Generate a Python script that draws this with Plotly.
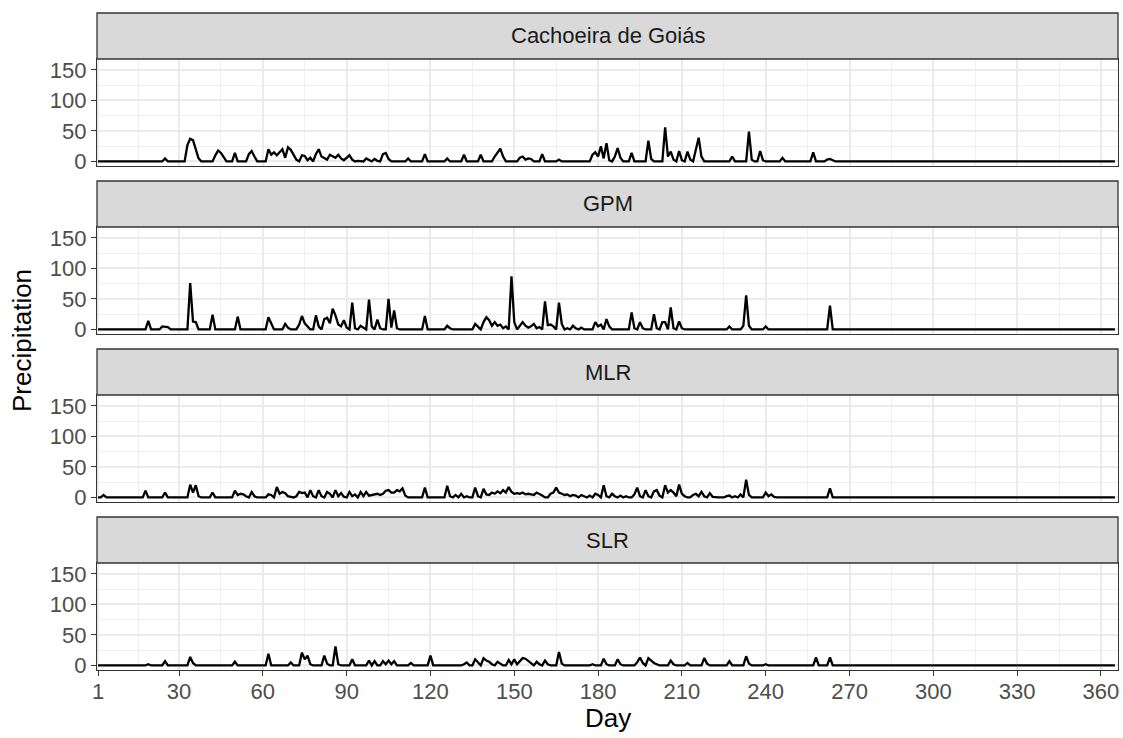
import plotly.graph_objects as go
from plotly.subplots import make_subplots

# ---------------- data (daily precipitation, nonzero days only) ----------------
panel_names = ["Cachoeira de Goiás", "GPM", "MLR", "SLR"]

cach_days = [25, 33, 34, 35, 36, 37, 43, 44, 45, 46, 50, 55, 56, 57,
             62, 63, 64, 65, 66, 67, 68, 69, 70, 71, 72, 74, 75, 76, 77, 79, 80, 81, 82, 83,
             84, 85, 86, 87, 88, 89, 90, 91, 92, 94, 97, 98, 100, 101, 103, 104, 105,
             112, 118, 126, 132, 138, 143, 144, 145, 146, 152, 153, 154, 155, 156, 160, 166,
             178, 179, 180, 181, 182, 183, 184, 186, 187, 188, 192, 198, 199,
             204, 205, 206, 207, 209, 210, 212, 213, 215, 216, 217,
             228, 234, 235, 238, 239, 246, 257, 262, 263, 264]
cach_vals = [5, 27, 37, 35, 20, 5, 10, 18, 14, 6, 14, 12, 17, 8,
             20, 11, 15, 10, 15, 20, 6, 23, 19, 10, 3, 10, 9, 2, 6, 12, 20, 8, 6, 3,
             11, 8, 6, 11, 5, 2, 6, 10, 3, 1, 5, 2, 4, 1, 12, 14, 4,
             5, 12, 5, 11, 11, 8, 15, 21, 8, 6, 8, 3, 5, 4, 12, 3,
             11, 15, 8, 25, 5, 30, 2, 8, 22, 6, 14, 34, 4,
             56, 8, 16, 3, 17, 2, 16, 3, 18, 39, 8,
             8, 49, 3, 17, 2, 6, 15, 3, 4, 2]

gpm_days = [19, 24, 25, 26, 34, 35, 36, 42, 51, 62, 63, 68, 69, 73, 74, 75, 76, 79, 80,
            82, 83, 84, 85, 86, 87, 88, 89, 90, 92, 93, 95, 96, 98, 99, 101, 102,
            105, 106, 107, 108, 118, 126, 127, 136, 137, 139, 140, 141, 142, 143, 144, 145,
            146, 147, 149, 150, 152, 153, 154, 155, 156, 157, 158, 159, 161, 162, 163, 164,
            166, 167, 169, 171, 172, 174, 179, 180, 181, 183, 184, 192, 193, 195, 196,
            200, 201, 203, 204, 206, 207, 209, 210, 227, 232, 233, 234, 240, 263]
gpm_vals = [14, 5, 5, 4, 76, 13, 12, 24, 21, 20, 10, 9, 3, 8, 22, 10, 4, 23, 5,
            17, 19, 10, 34, 23, 8, 5, 15, 3, 44, 2, 6, 3, 49, 5, 16, 2,
            50, 3, 31, 2, 22, 6, 2, 9, 5, 12, 20, 15, 6, 12, 6, 8,
            2, 5, 87, 12, 6, 12, 6, 3, 5, 9, 2, 4, 46, 7, 8, 5,
            44, 9, 2, 6, 2, 3, 12, 5, 8, 17, 5, 28, 2, 12, 2,
            25, 2, 12, 12, 36, 2, 13, 2, 5, 6, 56, 6, 5, 39]

mlr_days = [3, 18, 25, 34, 35, 36, 37, 42, 50, 51, 52, 53, 54, 56, 57,
            62, 63, 65, 66, 67, 68, 69, 70, 72, 73, 74, 75, 77, 78, 80, 81, 83, 84, 86, 87,
            88, 89, 91, 92, 93, 95, 96, 97, 98, 99, 100, 101, 102, 103, 104, 105, 106, 107,
            108, 109, 110, 111, 118, 126, 127, 129, 131, 133, 136, 137, 139, 140, 141, 142,
            143, 144, 145, 146, 147, 148, 149, 150, 151, 152, 153, 154, 155, 156, 157, 158,
            159, 160, 163, 164, 165, 166, 167, 168, 169, 170, 171, 172, 174, 175, 177, 179,
            180, 182, 183, 185, 186, 188, 190, 193, 194, 195, 197, 198, 200, 201, 202, 204,
            205, 206, 207, 208, 209, 210, 211, 214, 215, 216, 217, 218, 220, 221, 226, 227,
            229, 231, 233, 234, 240, 241, 242, 243, 263]
mlr_vals = [4, 11, 8, 21, 8, 20, 2, 8, 11, 4, 6, 5, 2, 9, 2,
            5, 4, 17, 6, 9, 7, 2, 1, 2, 9, 7, 8, 12, 2, 12, 2, 9, 6, 12, 2,
            7, 1, 9, 2, 5, 9, 2, 9, 3, 4, 6, 6, 4, 6, 11, 12, 8, 8,
            12, 10, 15, 3, 16, 19, 2, 4, 6, 2, 16, 2, 14, 5, 4, 8,
            6, 10, 7, 12, 8, 17, 9, 6, 7, 6, 8, 5, 6, 5, 4, 8,
            6, 3, 6, 8, 16, 8, 6, 4, 5, 2, 4, 3, 4, 2, 3, 6,
            4, 20, 2, 6, 2, 3, 2, 5, 16, 2, 12, 2, 10, 12, 3, 20,
            8, 12, 8, 2, 21, 6, 2, 4, 6, 2, 9, 2, 7, 1, 2, 3,
            2, 5, 29, 4, 8, 2, 5, 1, 15]

slr_days = [19, 25, 34, 35, 50, 62, 70, 74, 75, 76, 77, 82, 83, 86, 87, 92, 98, 100,
            103, 104, 105, 106, 107, 113, 120, 132, 133, 136, 137, 139, 140, 141, 142,
            144, 145, 148, 149, 150, 151, 152, 153, 154, 155, 156, 158, 159, 161, 162,
            166, 167, 178, 182, 183, 187, 188, 194, 195, 196, 198, 199, 200, 201,
            206, 207, 212, 218, 219, 227, 233, 234, 240, 258, 263]
slr_vals = [2, 7, 14, 4, 6, 19, 5, 21, 10, 16, 2, 16, 3, 31, 2, 10, 8, 7,
            7, 2, 8, 2, 7, 4, 16, 2, 5, 10, 4, 12, 8, 6, 2,
            6, 3, 9, 2, 10, 2, 8, 12, 11, 7, 3, 6, 2, 8, 2,
            22, 3, 2, 11, 2, 10, 2, 5, 13, 4, 12, 8, 4, 2,
            8, 2, 4, 12, 3, 7, 15, 3, 2, 13, 13]

n_days = 365
x_tick_vals = [1, 30, 60, 90, 120, 150, 180, 210, 240, 270, 300, 330, 360]
y_tick_vals = [0, 50, 100, 150]

series_days = [cach_days, gpm_days, mlr_days, slr_days]
series_vals = [cach_vals, gpm_vals, mlr_vals, slr_vals]

# ---------------- layout geometry (pixels) ----------------
W, H = 1123, 738
plot_left, plot_right = 97, 1118
top_px, bottom_px = 13, 670
strip_h, panel_h, gap = 46, 107, 15

fig = make_subplots(rows=4, cols=1, shared_xaxes=False)

days_all = list(range(1, n_days + 1))
for i, (d, v) in enumerate(zip(series_days, series_vals)):
    lookup = dict(zip(d, v))
    y = [lookup.get(k, 0) for k in days_all]
    fig.add_trace(go.Scatter(x=days_all, y=y, mode="lines",
                             line=dict(color="black", width=2.3),
                             showlegend=False, hoverinfo="skip"),
                  row=i + 1, col=1)

def to_paper(ypx):
    return (bottom_px - ypx) / (bottom_px - top_px)

minor_x = [(x_tick_vals[k] + x_tick_vals[k + 1]) / 2 for k in range(len(x_tick_vals) - 1)]
minor_y = [25, 75, 125]

font_fam = "Liberation Sans, Arial, sans-serif"
tick_size = 22
title_size = 26
shapes = []
annotations = []
for i in range(4):
    s_top = top_px + i * (strip_h + panel_h + gap)
    p_top = s_top + strip_h
    p_bot = p_top + panel_h
    dom = [to_paper(p_bot), to_paper(p_top)]
    xa = "xaxis" if i == 0 else f"xaxis{i+1}"
    ya = "yaxis" if i == 0 else f"yaxis{i+1}"
    last = (i == 3)
    fig.layout[ya].update(
        domain=dom, range=[-7.5, 168], tickvals=y_tick_vals,
        showgrid=True, gridcolor="#EBEBEB", gridwidth=2,
        minor=dict(tickvals=minor_y, showgrid=True, gridcolor="#EFEFEF", gridwidth=1, ticks=""),
        showline=True, mirror=True, linecolor="#333333", linewidth=1.3,
        ticks="outside", ticklen=5, tickcolor="#333333", tickwidth=1.2,
        tickfont=dict(family=font_fam, size=tick_size, color="#4D4D4D"),
        zeroline=False, fixedrange=True,
    )
    fig.layout[xa].update(
        range=[0.64, 366.1], tickvals=x_tick_vals,
        showticklabels=last,
        showgrid=True, gridcolor="#EBEBEB", gridwidth=2,
        minor=dict(tickvals=minor_x, showgrid=True, gridcolor="#EFEFEF", gridwidth=1, ticks=""),
        showline=True, mirror=True, linecolor="#333333", linewidth=1.3,
        ticks="outside" if last else "", ticklen=5, tickcolor="#333333", tickwidth=1.2,
        ticklabelstandoff=-4,
        tickfont=dict(family=font_fam, size=tick_size, color="#4D4D4D"),
        zeroline=False, fixedrange=True,
    )
    shapes.append(dict(type="rect", xref="paper", yref="paper",
                       x0=0, x1=1, y0=to_paper(p_top), y1=to_paper(s_top),
                       fillcolor="#D9D9D9", line=dict(color="#333333", width=1.3),
                       layer="above"))
    annotations.append(dict(text=panel_names[i], xref="paper", yref="paper",
                            x=0.5, y=(to_paper(p_top) + to_paper(s_top)) / 2,
                            xanchor="center", yanchor="middle", showarrow=False,
                            font=dict(family=font_fam, size=tick_size, color="#1A1A1A")))

annotations.append(dict(text="Day", xref="paper", yref="paper", x=0.5,
                        y=-(718 - bottom_px) / (bottom_px - top_px),
                        xanchor="center", yanchor="middle", showarrow=False,
                        font=dict(family=font_fam, size=title_size, color="black")))
annotations.append(dict(text="Precipitation", xref="paper", yref="paper",
                        x=-(plot_left - 22) / (plot_right - plot_left),
                        y=(to_paper(341)), textangle=-90,
                        xanchor="center", yanchor="middle", showarrow=False,
                        font=dict(family=font_fam, size=title_size, color="black")))

fig.update_layout(
    width=W, height=H,
    margin=dict(l=plot_left, r=W - plot_right, t=top_px, b=H - bottom_px),
    paper_bgcolor="white", plot_bgcolor="white",
    shapes=shapes, annotations=annotations,
)

fig.write_html("out.html")
